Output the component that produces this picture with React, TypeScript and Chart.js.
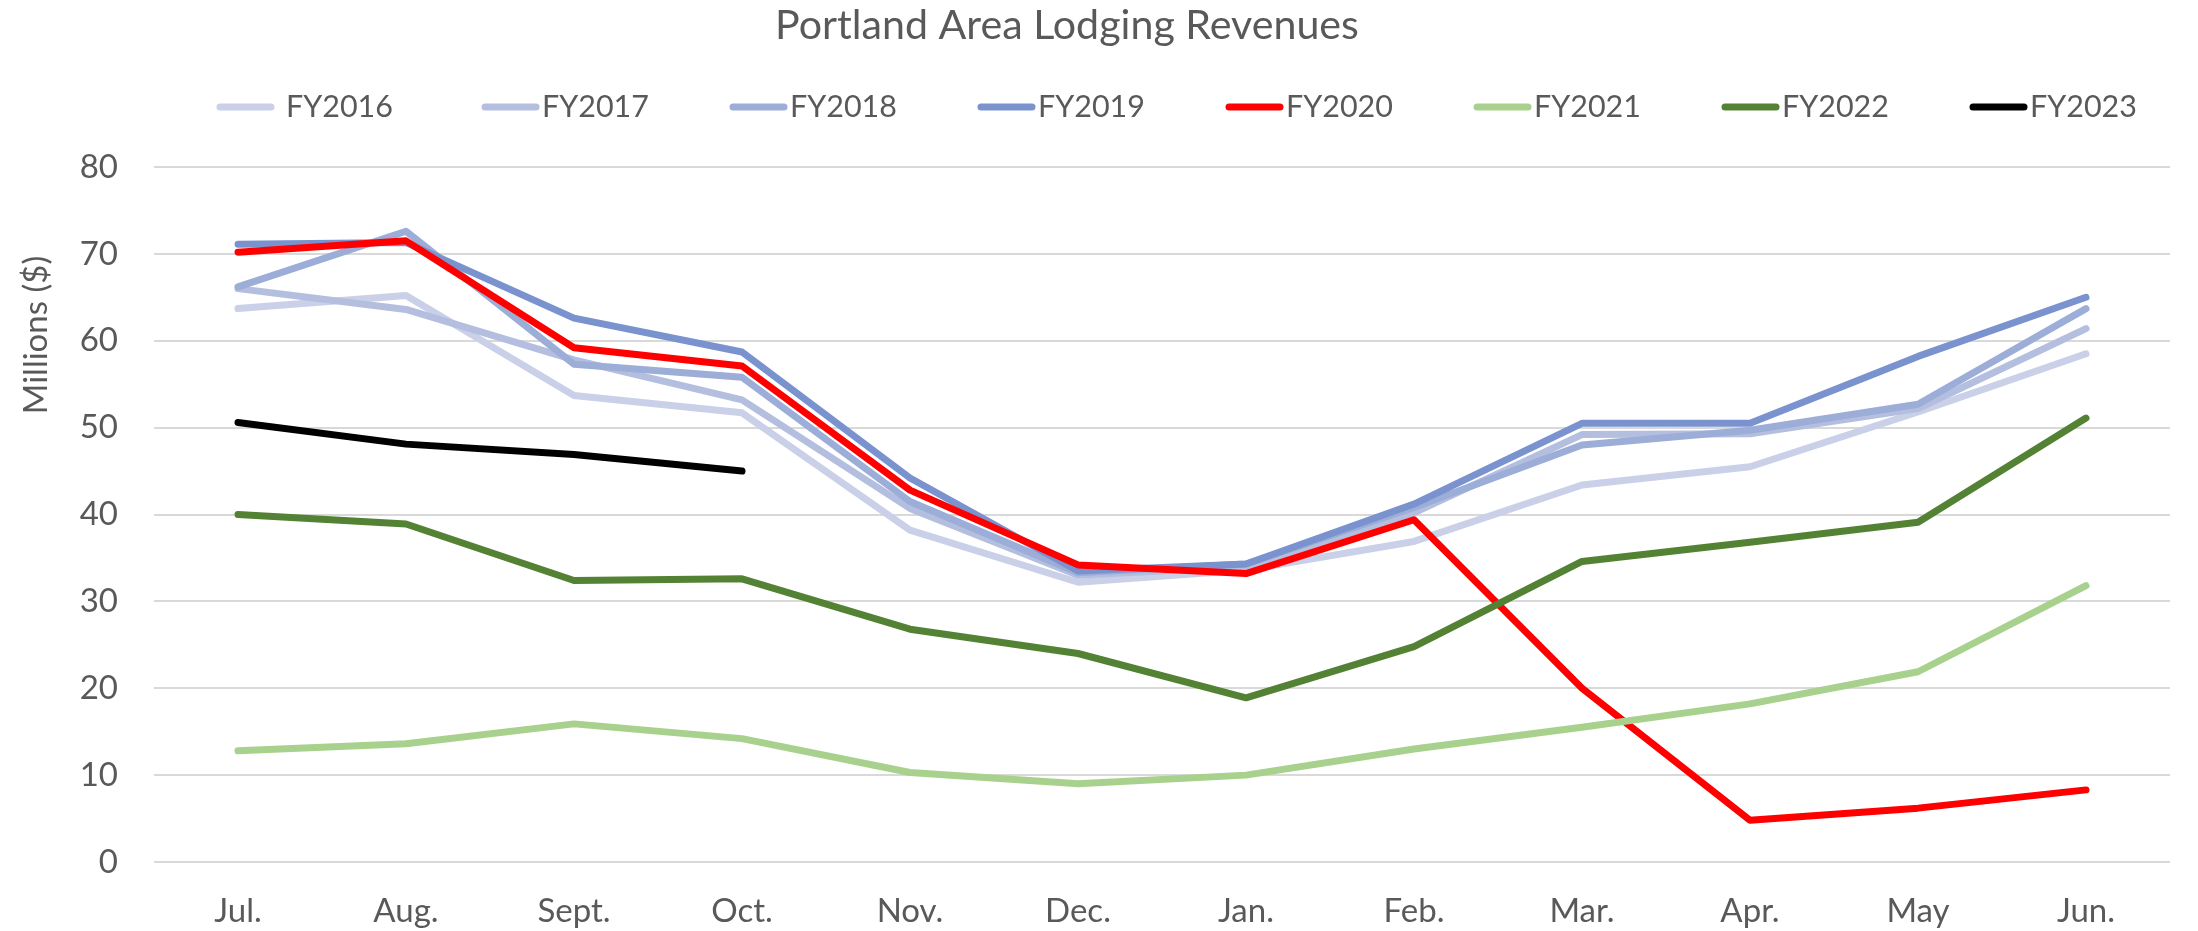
import React, { useEffect, useRef } from "react";
import { Chart, registerables } from "chart.js";

Chart.register(...registerables);

const TITLE = "Portland Area Lodging Revenues";
const Y_TITLE = "Millions ($)";

const categories = ["Jul.", "Aug.", "Sept.", "Oct.", "Nov.", "Dec.", "Jan.", "Feb.", "Mar.", "Apr.", "May", "Jun."];

const seriesNames = ["FY2016", "FY2017", "FY2018", "FY2019", "FY2020", "FY2021", "FY2022", "FY2023"];
const seriesColors = ["#cad0e8", "#b4bfe0", "#9cadd8", "#7a93cf", "#ff0000", "#a9d18e", "#548235", "#000000"];

const fy2016 = [63.7, 65.2, 53.7, 51.7, 38.2, 32.2, 33.6, 36.9, 43.4, 45.5, 51.8, 58.5];
const fy2017 = [66.0, 63.6, 57.8, 53.2, 40.7, 33.0, 34.0, 40.2, 49.2, 49.3, 52.2, 61.4];
const fy2018 = [66.2, 72.6, 57.3, 55.8, 41.5, 33.3, 34.3, 40.8, 48.0, 49.7, 52.7, 63.7];
const fy2019 = [71.1, 71.3, 62.6, 58.7, 44.2, 33.5, 34.3, 41.2, 50.5, 50.5, 58.2, 65.0];
const fy2020 = [70.2, 71.5, 59.2, 57.1, 42.8, 34.2, 33.2, 39.4, 20.0, 4.8, 6.2, 8.3];
const fy2021 = [12.8, 13.6, 15.9, 14.2, 10.3, 9.0, 10.0, 13.0, 15.5, 18.2, 21.9, 31.8];
const fy2022 = [40.0, 38.9, 32.4, 32.6, 26.8, 24.0, 18.9, 24.8, 34.6, 36.8, 39.1, 51.1];
const fy2023 = [50.6, 48.1, 46.9, 45.0, null, null, null, null, null, null, null, null];

const seriesValues = [fy2016, fy2017, fy2018, fy2019, fy2020, fy2021, fy2022, fy2023];

const Y_MIN = 0;
const Y_MAX = 80;
const Y_STEP = 10;

const FONT = "Lato, 'Open Sans', sans-serif";
const TEXT_COLOR = "#595959";

function fitFont(ctx: CanvasRenderingContext2D, text: string, base: number, target: number) {
  ctx.font = `${base}px ${FONT}`;
  const w = ctx.measureText(text).width;
  return w > 0 ? (base * target) / w : base;
}

const overlayPlugin = {
  id: "overlay",
  afterDraw(chart: any) {
    const ctx = chart.ctx as CanvasRenderingContext2D;
    ctx.save();
    // Title
    ctx.fillStyle = TEXT_COLOR;
    const tSize = fitFont(ctx, TITLE, 40, 584);
    ctx.font = `${tSize}px ${FONT}`;
    ctx.textAlign = "center";
    ctx.textBaseline = "alphabetic";
    ctx.fillText(TITLE, 1067, 39);

    // Legend
    const lSize = fitFont(ctx, "FY2016", 33, 107);
    ctx.font = `${lSize}px ${FONT}`;
    ctx.textAlign = "left";
    const lineLen = 51;
    seriesNames.forEach((name, i) => {
      const start = i === 0 ? 220 : 485 + (i - 1) * 248;
      ctx.strokeStyle = seriesColors[i];
      ctx.lineWidth = 7;
      ctx.lineCap = "round";
      ctx.beginPath();
      ctx.moveTo(start, 107);
      ctx.lineTo(start + lineLen, 107);
      ctx.stroke();
      ctx.fillStyle = TEXT_COLOR;
      ctx.fillText(name, start + lineLen + (i === 0 ? 15 : 6), 117);
    });

    // Y axis title
    ctx.font = `33px ${FONT}`;
    ctx.translate(47, 335);
    ctx.rotate(-Math.PI / 2);
    ctx.textAlign = "center";
    ctx.fillStyle = TEXT_COLOR;
    ctx.fillText(Y_TITLE, 0, 0);
    ctx.restore();
  },
};

export default function App() {
  const ref = useRef<HTMLCanvasElement | null>(null);

  useEffect(() => {
    document.body.style.margin = "0";
    let chart: Chart | null = null;
    let cancelled = false;
    const build = () => {
      if (cancelled || !ref.current) return;
      chart = new Chart(ref.current, {
        type: "line",
        data: {
          labels: categories,
          datasets: seriesNames.map((name, i) => ({
            label: name,
            data: seriesValues[i],
            borderColor: seriesColors[i],
            backgroundColor: seriesColors[i],
            borderWidth: 7,
            pointRadius: 0,
            pointHoverRadius: 0,
            tension: 0,
            borderCapStyle: "round",
            borderJoinStyle: "round",
            spanGaps: false,
            order: seriesNames.length - i,
          })),
        },
        options: {
          responsive: false,
          animation: false,
          devicePixelRatio: 1,
          layout: { padding: { top: 167, right: 28, left: 0, bottom: 0 } },
          plugins: {
            legend: { display: false },
            title: { display: false },
            tooltip: { enabled: false },
          },
          scales: {
            x: {
              type: "category",
              offset: true,
              grid: { display: false, drawTicks: false },
              border: { display: false },
              ticks: { font: { family: FONT, size: 33 }, color: TEXT_COLOR, padding: 30, maxRotation: 0 },
              afterFit: (scale: any) => {
                scale.height = 69;
              },
            },
            y: {
              min: Y_MIN,
              max: Y_MAX,
              ticks: { stepSize: Y_STEP, font: { family: FONT, size: 33 }, color: TEXT_COLOR, padding: 36 },
              grid: { color: "#d9d9d9", lineWidth: 2, drawTicks: false },
              border: { display: false },
              afterFit: (scale: any) => {
                scale.width = 154;
              },
            },
          },
        },
        plugins: [overlayPlugin],
      } as any);
    };
    const fonts = (document as any).fonts;
    if (fonts && fonts.load) {
      Promise.all([fonts.load(`33px Lato`), fonts.load(`40px Lato`)]).then(build, build);
    } else {
      build();
    }
    return () => {
      cancelled = true;
      if (chart) chart.destroy();
    };
  }, []);

  return (
    <div style={{ width: 2198, height: 931, background: "#ffffff" }}>
      <canvas ref={ref} width={2198} height={931} style={{ display: "block" }} />
    </div>
  );
}
